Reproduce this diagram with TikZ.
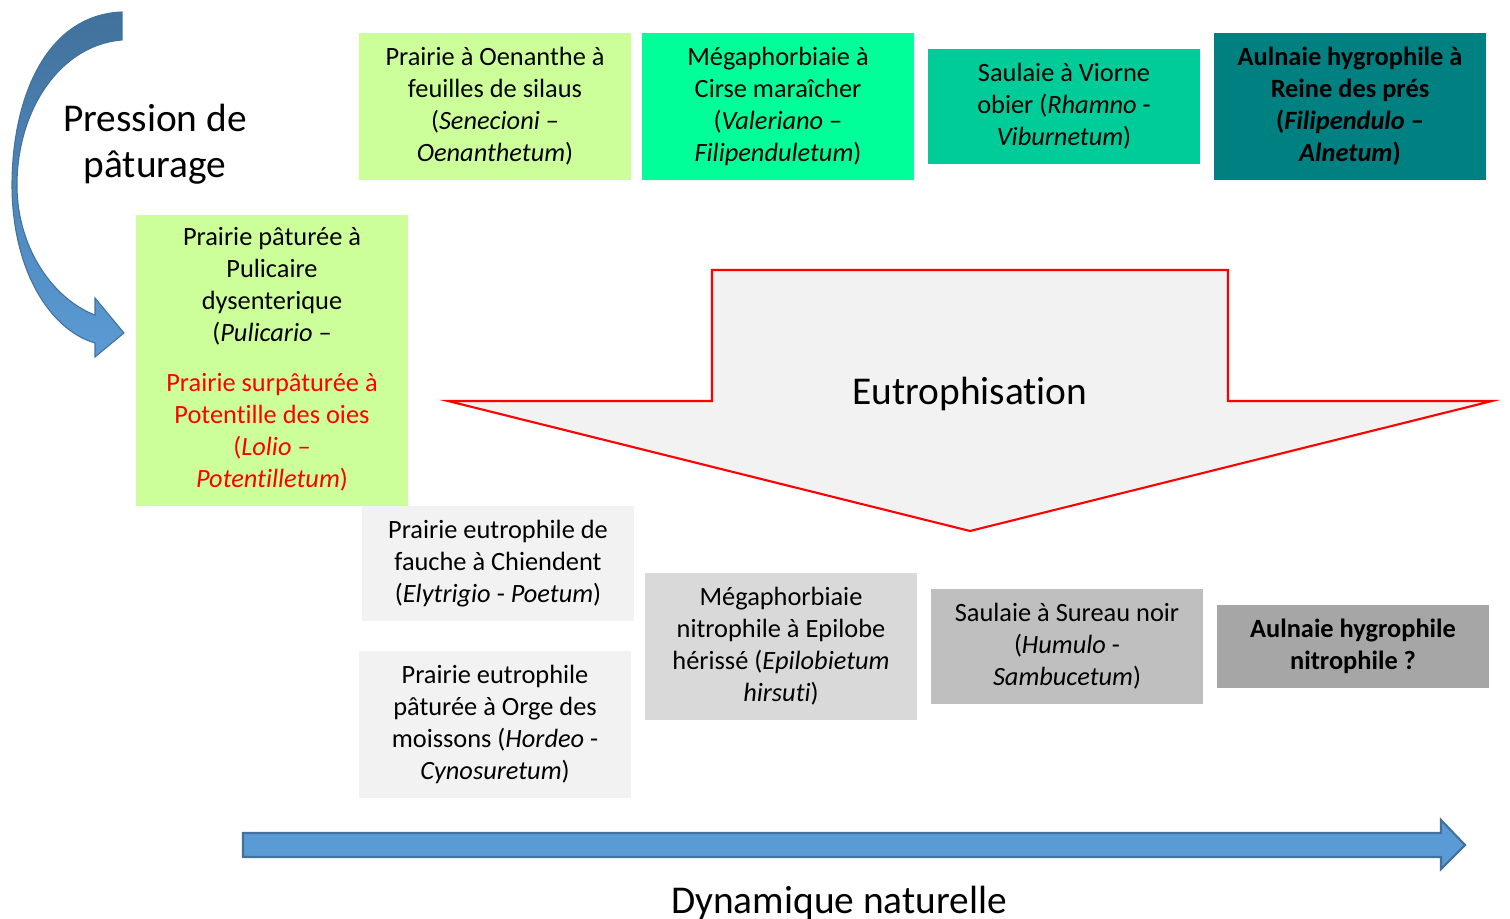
\documentclass[tikz,border=0pt]{standalone}
\usepackage{fontspec}
\setmainfont{Carlito}[Ligatures={TeX,NoCommon}]
\usepackage{tikz}
\definecolor{prairie}{HTML}{CCFF99}
\definecolor{megaph}{HTML}{00FF99}
\definecolor{saulaie}{HTML}{00CC99}
\definecolor{aulnaie}{HTML}{008080}
\definecolor{grisA}{HTML}{F2F2F2}
\definecolor{grisB}{HTML}{D9D9D9}
\definecolor{grisC}{HTML}{BFBFBF}
\definecolor{grisD}{HTML}{A6A6A6}
\definecolor{bleu}{HTML}{5B9BD5}
\definecolor{bleufonce}{HTML}{41719C}

\begin{document}
\begin{tikzpicture}[x=0.01cm,y=-0.01cm,
  box/.style={inner sep=0pt, align=center, minimum width=2.72cm,
    font=\fontsize{7.5}{9.1}\selectfont},
  bigtext/.style={align=center, font=\fontsize{11.2}{13.1}\selectfont}]
\useasboundingbox (0,0) rectangle (1510,919);

% curved arrow (pression de paturage)
\shade[top color=bleufonce, bottom color=bleu, draw=bleufonce, line width=0.3pt]
  (122,12) .. controls (45,15) and (12,100) .. (12,185)
  .. controls (12,270) and (50,330) .. (95,343)
  -- (95,357) -- (124,333) -- (95,298) -- (95,315)
  .. controls (55,300) and (17,250) .. (17,185)
  .. controls (17,110) and (60,45) .. (122,40) -- cycle;
\node[bigtext] (pression) at (155,144) {Pression de\\pâturage};

% top row
\node[box, fill=prairie, minimum height=1.47cm] (oenanthe) at (495,106.5)
  {Prairie à Oenanthe à\\feuilles de silaus\\(\textit{Senecioni} --\\\textit{Oenanthetum})};
\node[box, fill=megaph, minimum height=1.47cm] (cirse) at (778,106.5)
  {Mégaphorbiaie à\\Cirse maraîcher\\(\textit{Valeriano} --\\\textit{Filipenduletum})};
\node[box, fill=saulaie, minimum height=1.15cm] (viorne) at (1064,106.5)
  {Saulaie à Viorne\\obier (\textit{Rhamno} -\\\textit{Viburnetum})};
\node[box, fill=aulnaie, minimum height=1.47cm, font=\fontsize{7.5}{9.1}\selectfont\bfseries] (reine) at (1350,106.5)
  {Aulnaie hygrophile à\\Reine des prés\\(\textit{Filipendulo} --\\\textit{Alnetum})};

% grazed meadows
\node[box, fill=prairie, minimum height=1.43cm] (pulicaire) at (272,286.5)
  {Prairie pâturée à\\Pulicaire\\dysenterique\\(\textit{Pulicario} --};
\node[box, fill=prairie, minimum height=1.48cm, text=red] (potentille) at (272,432)
  {Prairie surpâturée à\\Potentille des oies\\(\textit{Lolio} --\\\textit{Potentilletum})};

% eutrophisation arrow
\draw[red, fill=grisA, line width=0.6pt]
  (712,270) -- (1228,270) -- (1228,401) -- (1492,401) -- (970,531)
  -- (448,401) -- (712,401) -- cycle;
\node[bigtext] (eutro) at (970,394) {Eutrophisation};

% eutrophic row
\node[box, fill=grisA, minimum height=1.15cm] (chiendent) at (498,563.5)
  {Prairie eutrophile de\\fauche à Chiendent\\(\textit{Elytrigio} - \textit{Poetum})};
\node[box, fill=grisA, minimum height=1.47cm] (orge) at (495,724.5)
  {Prairie eutrophile\\pâturée à Orge des\\moissons (\textit{Hordeo} -\\\textit{Cynosuretum})};
\node[box, fill=grisB, minimum height=1.47cm] (epilobe) at (781,646.5)
  {Mégaphorbiaie\\nitrophile à Epilobe\\hérissé (\textit{Epilobietum}\\\textit{hirsuti})};
\node[box, fill=grisC, minimum height=1.15cm] (sureau) at (1067,646.5)
  {Saulaie à Sureau noir\\(\textit{Humulo} -\\\textit{Sambucetum})};
\node[box, fill=grisD, minimum height=0.83cm, font=\fontsize{7.5}{9.1}\selectfont\bfseries] (nitro) at (1353,646.5)
  {Aulnaie hygrophile\\nitrophile ?};

% dynamique naturelle
\draw[fill=bleu, draw=bleufonce, line width=0.6pt]
  (243,833) -- (1441,833) -- (1441,820) -- (1465,845) -- (1441,869)
  -- (1441,857) -- (243,857) -- cycle;
\node[bigtext, anchor=base] (dynamique) at (839,913) {Dynamique naturelle};
\end{tikzpicture}
\end{document}
